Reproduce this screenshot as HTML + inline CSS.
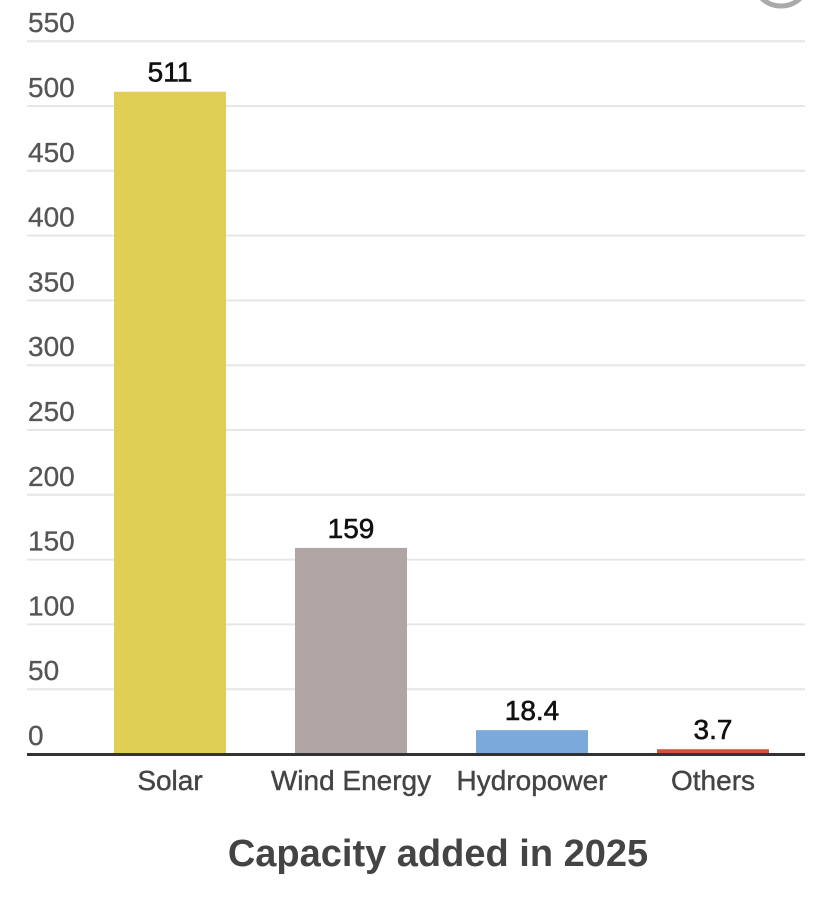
<!DOCTYPE html>
<html><head><meta charset="utf-8">
<style>
html,body{margin:0;padding:0;background:#fff;}
body{width:838px;height:894px;overflow:hidden;font-family:"Liberation Sans",sans-serif;}
</style></head>
<body>
<svg id="chart" width="838" height="894" xmlns="http://www.w3.org/2000/svg">
<circle cx="781" cy="-22" r="28" fill="#fff" stroke="#aaa" stroke-width="5"/>
<g id="grid"></g><g id="bars"></g><g id="labels"></g>
<line x1="27" x2="805" y1="754.5" y2="754.5" stroke="#333" stroke-width="3"/>
<text x="438" y="866" text-anchor="middle" font-size="38" font-weight="bold" fill="#444">Capacity added in 2025</text>
</svg>
<script>
const categories=["Solar","Wind Energy","Hydropower","Others"];
const values=[511,159,18.4,3.7];
const valueLabels=["511","159","18.4","3.7"];
const colors=["#E0CF55","#B0A4A4","#7BA9DB","#D0533A"];
const ticks=[0,50,100,150,200,250,300,350,400,450,500,550];
const NS="http://www.w3.org/2000/svg";
const y0=754,pxPer=648/500;
function y(v){return y0-v*pxPer;}
function xc(i){return 170+i*181;}
function mk(tag,attrs,parent,txt){const e=document.createElementNS(NS,tag);for(const k in attrs)e.setAttribute(k,attrs[k]);if(txt!==undefined)e.textContent=txt;document.getElementById(parent).appendChild(e);return e;}
ticks.forEach(t=>{
  if(t>0){const l=mk("line",{x1:27,x2:805,y1:y(t),y2:y(t),stroke:"#e6e6e6","stroke-width":2},"grid");
  
  }
  const tx=mk("text",{x:28,y:y(t)-9,"font-size":28,fill:"#555",stroke:"#555","stroke-width":0.3},"grid",String(t));
  
  
});
categories.forEach((c,i)=>{
  const r=mk("rect",{x:xc(i)-56,width:112,y:y(values[i]),height:y0-y(values[i]),fill:colors[i]},"bars");
  
  
  const v=mk("text",{x:xc(i),y:y(values[i])-10,"text-anchor":"middle","font-size":28,fill:"#111",stroke:"#111","stroke-width":0.6},"labels",valueLabels[i]);
  
  
  const cl=mk("text",{x:xc(i),y:790,"text-anchor":"middle","font-size":28,fill:"#444",stroke:"#444","stroke-width":0.4},"labels",c);
  
  
});
</script>
</body></html>
